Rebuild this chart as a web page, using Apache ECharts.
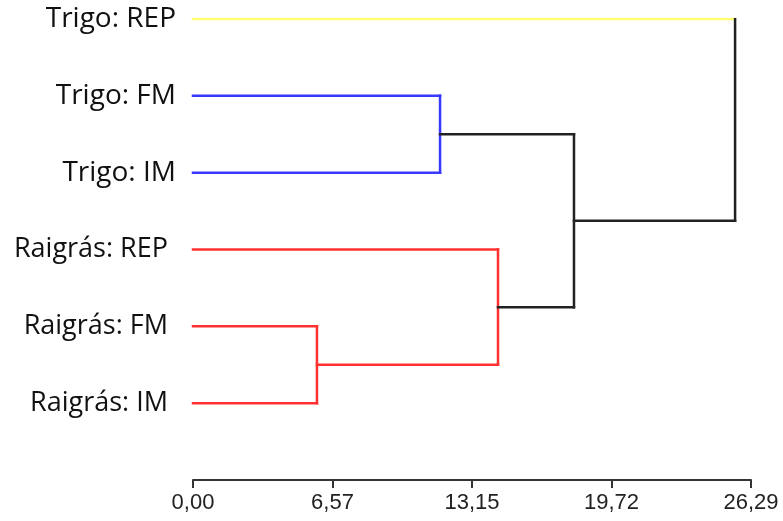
<!DOCTYPE html>
<html>
<head>
<meta charset="utf-8">
<script src="https://cdn.jsdelivr.net/npm/echarts@6/dist/echarts.min.js"></script>
<style>
html,body{margin:0;padding:0;background:#fff;}
#chart{width:783px;height:521px;}
</style>
</head>
<body>
<div id="chart"></div>
<script>
// Leaves (top to bottom)
var leaves = ['Trigo: REP', 'Trigo: FM', 'Trigo: IM', 'Raigrás: REP', 'Raigrás: FM', 'Raigrás: IM'];
// Merges: children refer to leaf index (number) or merge index as 'm<k>'
var mergeLeft   = [4, 1, 3, 'm1', 0];
var mergeRight  = [5, 2, 'm0', 'm2', 'm3'];
var mergeHeight = [5.84, 11.64, 14.37, 17.95, 25.54];
// Tick labels of the distance axis
var tickLabels = ['0,00', '6,57', '13,15', '19,72', '26,29'];
var axisMax = 26.29;

// Styles (kept separate from data)
var leafColors  = ['#ffff70', '#3838ff', '#3838ff', '#ff3030', '#ff3030', '#ff3030'];
var mergeColors = ['#ff3030', '#3838ff', '#ff3030', '#222222', '#222222'];

// Compute node positions
var nodeY = {}, nodeX = {};
leaves.forEach(function (l, i) { nodeY[i] = i; nodeX[i] = 0; });
mergeHeight.forEach(function (h, k) {
  var a = mergeLeft[k], b = mergeRight[k];
  nodeY['m' + k] = (nodeY[a] + nodeY[b]) / 2;
  nodeX['m' + k] = h;
});
function segColor(child, k) {
  if (typeof child === 'number') return leafColors[child];
  return mergeColors[k];
}

var series = [];
mergeHeight.forEach(function (h, k) {
  var a = mergeLeft[k], b = mergeRight[k];
  series.push({ color: segColor(a, k), data: [[nodeX[a], nodeY[a]], [h, nodeY[a]]] });
  series.push({ color: segColor(b, k), data: [[nodeX[b], nodeY[b]], [h, nodeY[b]]] });
  series.push({ color: mergeColors[k], data: [[h, nodeY[a]], [h, nodeY[b]]] });
});

var chart = echarts.init(document.getElementById('chart'), null, { renderer: 'canvas' });
var interval = axisMax / 4;
chart.setOption({
  animation: false,
  backgroundColor: '#ffffff',
  grid: { left: 193, right: 32, top: 19, bottom: 41 },
  xAxis: {
    type: 'value', min: 0, max: axisMax, interval: interval, position: 'bottom',
    splitLine: { show: false },
    axisLine: { show: true, onZero: false, lineStyle: { color: '#333333', width: 2 } },
    axisTick: { show: true, inside: false, length: 8, lineStyle: { color: '#333333', width: 2 } },
    axisLabel: {
      margin: 12, color: '#222222', fontFamily: 'Liberation Sans, Arial, sans-serif', fontSize: 22,
      formatter: function (v) { return tickLabels[Math.round(v / interval)] || ''; },
      showMinLabel: true, showMaxLabel: true
    }
  },
  yAxis: {
    type: 'value', min: 0, max: 6, interval: 1, inverse: true,
    splitLine: { show: false },
    axisLine: { show: false }, axisTick: { show: false },
    axisLabel: {
      margin: 17, color: '#111111',
      fontFamily: 'Open Sans, sans-serif', fontSize: 28,
      formatter: function (v) {
        var name = leaves[v];
        if (!name) return '';
        return name.indexOf('Raigr') === 0 ? '{r|' + name + '}' : '{t|' + name + '}';
      },
      rich: {
        t: { fontFamily: 'Open Sans, sans-serif', fontSize: 28, color: '#111111' },
        r: { fontFamily: 'Open Sans, sans-serif', fontSize: 27, color: '#111111', padding: [0, 8, 0, 0] }
      }
    }
  },
  series: series.map(function (s) {
    return {
      type: 'line', data: s.data, symbol: 'none', silent: true,
      lineStyle: { color: s.color, width: 2.5, cap: 'square', join: 'miter' }
    };
  })
});
</script>
</body>
</html>
